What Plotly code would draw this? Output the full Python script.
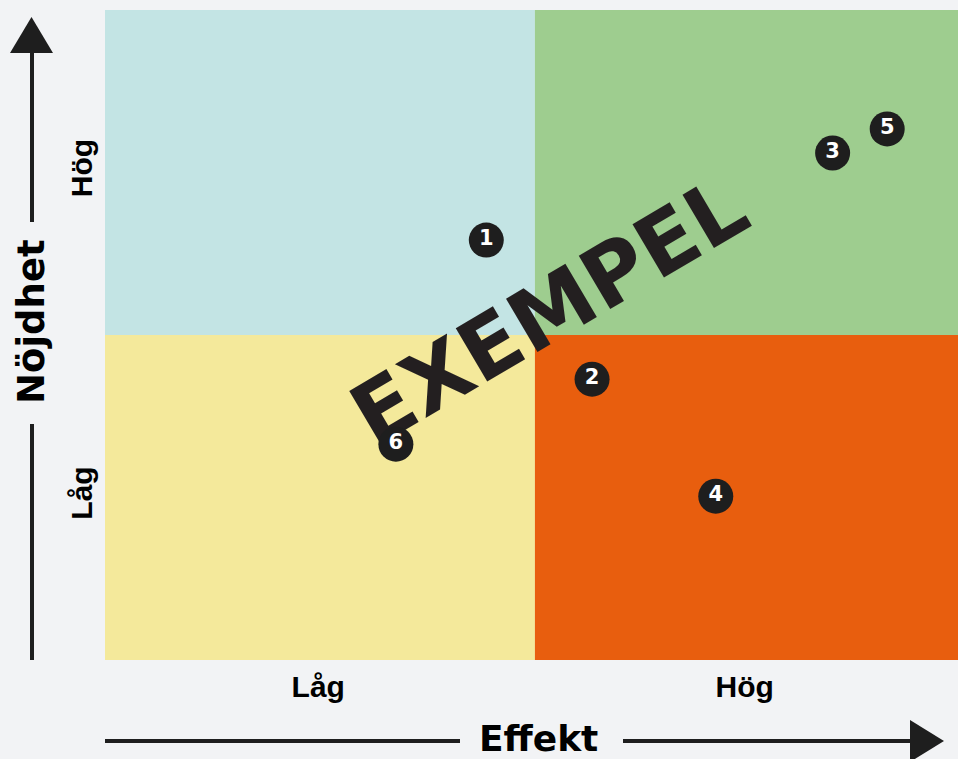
import plotly.graph_objects as go

# punkter i matrisen
labels = ["1", "2", "3", "4", "5", "6"]
effekt = [4.47, 5.71, 8.53, 7.16, 9.17, 3.41]
nojdhet = [6.46, 4.32, 7.80, 2.52, 8.17, 3.32]

tick_vals = [2.5, 7.5]
tick_text = ["Låg", "Hög"]

quadrants = [
    # x0, x1, y0, y1, color
    (0, 5.04, 5, 10, "#c3e4e4"),
    (5.04, 10, 5, 10, "#9ecd8f"),
    (0, 5.04, 0, 5, "#f4e99b"),
    (5.04, 10, 0, 5, "#e85e0e"),
]

W, H = 958, 759
L, R, T, B = 105, 0, 10, 99
PW, PH = W - L - R, H - T - B


def px(x):
    return (x - L) / PW


def py(y):
    return (H - B - y) / PH


FONT = "Liberation Sans, Arial, sans-serif"
WIDE = "DejaVu Sans, sans-serif"
INK = "#1e1e1e"
BG = "#f2f3f5"

fig = go.Figure()

fig.add_trace(go.Scatter(
    x=effekt, y=nojdhet, mode="markers+text", text=labels,
    marker=dict(size=35, color=INK),
    textfont=dict(family=WIDE, size=21, color="white", weight=700),
    textposition="middle center", hoverinfo="skip", showlegend=False,
))

shapes = []
for x0, x1, y0, y1, c in quadrants:
    shapes.append(dict(type="rect", xref="x", yref="y", x0=x0, x1=x1, y0=y0, y1=y1,
                       fillcolor=c, line=dict(width=0), layer="below"))

# stämpeltext under punkterna
shapes.append(dict(type="rect", xref="x", yref="y", x0=4.17, x1=6.17, y0=4.85, y1=6.05,
                   line=dict(width=0), fillcolor="rgba(0,0,0,0)", layer="below",
                   label=dict(text="EXEMPEL", textangle=-30.5, textposition="middle center",
                              font=dict(family=WIDE, size=85, color="#231f20", weight=700))))

line = dict(color=INK, width=4)
# vertical arrow
shapes.append(dict(type="line", xref="paper", yref="paper",
                   x0=px(32), x1=px(32), y0=py(660), y1=py(424), line=line))
shapes.append(dict(type="line", xref="paper", yref="paper",
                   x0=px(32), x1=px(32), y0=py(222), y1=py(50), line=line))
shapes.append(dict(type="path", xref="paper", yref="paper",
                   path=f"M {px(10)} {py(53)} L {px(53)} {py(53)} L {px(31.5)} {py(17)} Z",
                   fillcolor=INK, line=dict(width=0)))
# horizontal arrow
shapes.append(dict(type="line", xref="paper", yref="paper",
                   x0=px(105), x1=px(460), y0=py(741), y1=py(741), line=line))
shapes.append(dict(type="line", xref="paper", yref="paper",
                   x0=px(623), x1=px(915), y0=py(741), y1=py(741), line=line))
shapes.append(dict(type="path", xref="paper", yref="paper",
                   path=f"M {px(910)} {py(720)} L {px(910)} {py(762)} L {px(944)} {py(741)} Z",
                   fillcolor=INK, line=dict(width=0)))

annotations = [
    dict(text="Nöjdhet", xref="paper", yref="paper", x=px(31), y=py(322),
         showarrow=False, textangle=-90, xanchor="center", yanchor="middle",
         font=dict(family=WIDE, size=37, color="black", weight=700)),
    dict(text="Effekt", xref="paper", yref="paper", x=px(538), y=py(738),
         showarrow=False, xanchor="center", yanchor="middle",
         font=dict(family=WIDE, size=36, color="black", weight=700)),
]

fig.update_layout(
    width=W, height=H,
    margin=dict(l=L, r=R, t=T, b=B),
    paper_bgcolor=BG, plot_bgcolor=BG,
    shapes=shapes, annotations=annotations,
    xaxis=dict(range=[0, 10], tickvals=tick_vals, ticktext=tick_text,
               showgrid=False, zeroline=False, showline=False, ticks="",
               ticklabelstandoff=6, fixedrange=True,
               tickfont=dict(family=FONT, size=30, color="black", weight=700)),
    yaxis=dict(range=[0, 10], tickvals=tick_vals, ticktext=tick_text,
               showgrid=False, zeroline=False, showline=False, ticks="",
               tickangle=-90, ticklabelstandoff=6, fixedrange=True,
               tickfont=dict(family=FONT, size=30, color="black", weight=700)),
)

fig.write_html("out.html", config={"displayModeBar": False},
               post_script=f"document.body.style.margin='0px';"
                           f"document.body.style.background='{BG}';")
